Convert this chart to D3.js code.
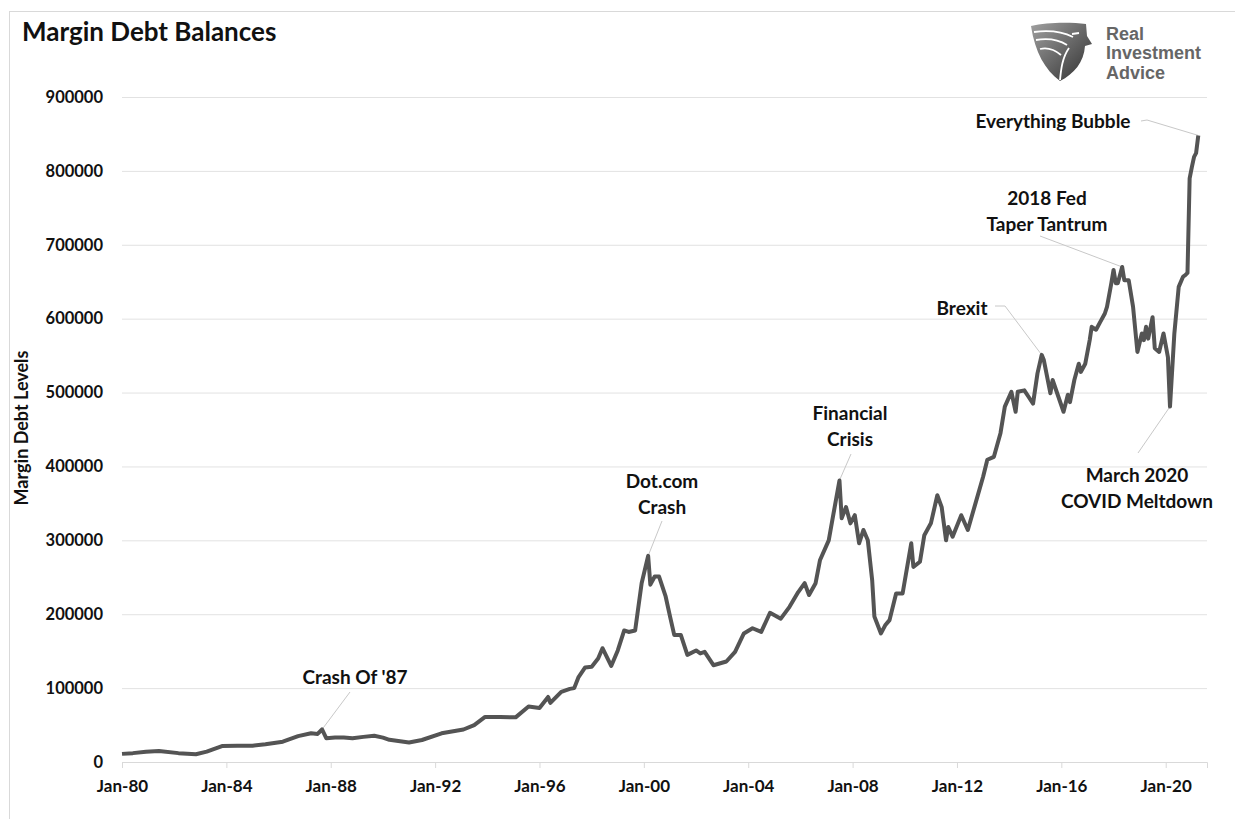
<!DOCTYPE html>
<html>
<head>
<meta charset="utf-8">
<script src="https://cdn.jsdelivr.net/npm/d3@7"></script>
<style>
  body { margin: 0; background: #fff; }
  svg { display: block; font-family: Lato, "Open Sans", sans-serif; }
</style>
</head>
<body>
<svg width="1235" height="819"></svg>
<script>
// monthly readings (millions $)
const months = [
  "1980-01","1980-06","1980-12","1981-06","1982-03","1982-11","1983-04","1983-11",
  "1984-06","1985-01","1985-07","1986-03","1986-10","1987-04","1987-07","1987-09",
  "1987-11","1988-03","1988-07","1988-11","1989-04","1989-09","1990-01","1990-04",
  "1991-01","1991-07","1992-04","1993-02","1993-07","1993-12","1994-07","1995-02",
  "1995-08","1996-01","1996-05","1996-06","1996-11","1997-03","1997-05","1997-07",
  "1997-10","1998-01","1998-04","1998-06","1998-10","1999-01","1999-04","1999-06",
  "1999-09","1999-12","2000-03","2000-04","2000-06","2000-08","2000-11","2001-01",
  "2001-03","2001-06","2001-09","2002-01","2002-03","2002-05","2002-09","2003-03",
  "2003-07","2003-11","2004-03","2004-07","2004-11","2005-04","2005-08","2005-12",
  "2006-03","2006-05","2006-08","2006-10","2007-02","2007-04","2007-07","2007-08",
  "2007-10","2007-12","2008-02","2008-04","2008-06","2008-08","2008-10","2008-11",
  "2009-02","2009-04","2009-06","2009-09","2009-12","2010-04","2010-05","2010-08",
  "2010-10","2011-01","2011-04","2011-06","2011-08","2011-09","2011-11","2012-03",
  "2012-06","2012-09","2013-01","2013-03","2013-06","2013-09","2013-11","2014-02",
  "2014-04","2014-05","2014-08","2014-10","2014-12","2015-02","2015-04","2015-05",
  "2015-08","2015-09","2016-02","2016-04","2016-05","2016-07","2016-09","2016-10",
  "2016-12","2017-02","2017-03","2017-05","2017-07","2017-09","2017-10","2017-12",
  "2018-01","2018-02","2018-03","2018-05","2018-06","2018-08","2018-10","2018-12",
  "2019-02","2019-03","2019-04","2019-05","2019-07","2019-08","2019-10","2019-12",
  "2020-02","2020-03","2020-05","2020-07","2020-09","2020-10","2020-11","2020-12",
  "2021-01","2021-02","2021-03","2021-04"
];
const debt = [
  11000,12000,14000,15000,12000,10500,14000,21500,
  22000,22000,24000,27500,35000,39000,38000,44000,
  32000,33000,33000,32000,34000,35500,33000,30000,
  26500,29800,38800,44000,50000,61000,61000,60400,
  75000,73000,88000,80000,95000,99000,100000,115000,
  128000,129000,140000,154000,130000,151000,178000,176000,
  178000,242000,279000,240000,251000,251000,224000,197000,
  172000,172000,145000,151000,147000,149000,131000,136000,
  149000,174000,181000,176000,202000,194000,210000,230000,
  242000,226000,242000,273000,300000,332000,381000,330000,
  345000,323000,334000,296000,314000,300000,246000,197000,
  174000,185000,192000,228000,228000,296000,264000,271000,
  307000,323000,361000,345000,300000,318000,305000,334000,
  314000,345000,386000,409000,413000,445000,481000,501000,
  474000,501000,503000,494000,485000,526000,551000,544000,
  499000,517000,474000,497000,487000,517000,539000,528000,
  539000,571000,589000,585000,596000,607000,616000,648000,
  666000,648000,648000,670000,652000,652000,616000,555000,
  580000,571000,589000,573000,602000,560000,555000,580000,
  548000,481000,580000,643000,657000,659000,662000,790000,
  805000,819000,824000,848000
];
const yTicks = [0,100000,200000,300000,400000,500000,600000,700000,800000,900000];

// annotations: label lines, the data month they point to
const notes = [
  { lines: ["Crash Of '87"], month: "1987-09", lx: 355, ly: 677, from: [350, 692] },
  { lines: ["Dot.com", "Crash"], month: "2000-03", lx: 662, ly: 481, from: [662, 521] },
  { lines: ["Financial", "Crisis"], month: "2007-07", lx: 850, ly: 413, from: [851, 454] },
  { lines: ["Brexit"], month: "2015-04", lx: 962, ly: 308, from: [995, 306], elbow: [1005, 306] },
  { lines: ["2018 Fed", "Taper Tantrum"], month: "2018-05", lx: 1047, ly: 198, from: [1040, 236] },
  { lines: ["Everything Bubble"], month: "2021-04", lx: 1053, ly: 121, from: [1141, 121], elbow: [1147, 120] },
  { lines: ["March 2020", "COVID Meltdown"], month: "2020-03", lx: 1137, ly: 475, from: [1138, 453] }
];

const parse = d3.timeParse("%Y-%m");
const data = months.map((m, i) => ({ date: parse(m), value: debt[i] }));

const svg = d3.select("svg");
const plotLeft = 122, plotRight = 1207, plotTop = 97, plotBottom = 762;

const x = d3.scaleTime()
  .domain([new Date(1980, 0, 1), new Date(2021, 7, 1)])
  .range([plotLeft, plotRight]);
const y = d3.scaleLinear().domain([0, 900000]).range([plotBottom, plotTop]);

// outer frame
svg.append("rect")
  .attr("x", 9.5).attr("y", 11.5)
  .attr("width", 1240).attr("height", 820)
  .attr("fill", "none").attr("stroke", "#d9d9d9");

svg.append("text")
  .attr("x", 22).attr("y", 41)
  .attr("font-size", 26).attr("font-weight", 700)
  .attr("fill", "#111")
  .text("Margin Debt Balances");

// y axis + gridlines
const yAxis = d3.axisLeft(y)
  .tickValues(yTicks)
  .tickSize(-(plotRight - plotLeft))
  .tickPadding(19)
  .tickFormat(d3.format("d"));

const yg = svg.append("g")
  .attr("transform", `translate(${plotLeft},0)`)
  .call(yAxis);
yg.select(".domain").remove();
yg.selectAll("line").attr("stroke", "#e2e2e2");
yg.selectAll("text")
  .attr("font-size", 16.5).attr("font-weight", 700)
  .attr("fill", "#111").attr("font-family", "Lato, sans-serif");

// x axis
const xAxis = d3.axisBottom(x)
  .ticks(d3.timeYear.every(4))
  .tickSize(6)
  .tickPadding(12)
  .tickFormat(d3.timeFormat("Jan-%y"));

const xg = svg.append("g")
  .attr("transform", `translate(0,${plotBottom})`)
  .call(xAxis);
xg.select(".domain").attr("stroke", "#d9d9d9");
xg.selectAll("line").attr("stroke", "#d9d9d9");
xg.selectAll("text")
  .attr("font-size", 17).attr("font-weight", 700)
  .attr("fill", "#111").attr("font-family", "Lato, sans-serif");

svg.append("text")
  .attr("transform", "translate(28,428) rotate(-90)")
  .attr("text-anchor", "middle")
  .attr("font-size", 18).attr("font-weight", 700)
  .attr("fill", "#111")
  .text("Margin Debt Levels");

// leader lines
const byMonth = new Map(data.map(d => [d3.timeFormat("%Y-%m")(d.date), d]));
notes.forEach(n => {
  const d = byMonth.get(n.month);
  const pts = [n.from];
  if (n.elbow) pts.push(n.elbow);
  pts.push([x(d.date), y(d.value)]);
  svg.append("path")
    .attr("d", d3.line()(pts))
    .attr("fill", "none")
    .attr("stroke", "#c8c8c8")
    .attr("stroke-width", 1);
});

// the series
svg.append("path")
  .datum(data)
  .attr("fill", "none")
  .attr("stroke", "#545454")
  .attr("stroke-width", 4)
  .attr("stroke-linejoin", "round")
  .attr("d", d3.line().x(d => x(d.date)).y(d => y(d.value)));

// labels
notes.forEach(n => {
  const t = svg.append("text")
    .attr("text-anchor", "middle")
    .attr("font-size", 19).attr("font-weight", 700)
    .attr("fill", "#111");
  n.lines.forEach((l, i) => {
    t.append("tspan")
      .attr("x", n.lx)
      .attr("y", n.ly + i * 26)
      .attr("dy", "0.35em")
      .text(l);
  });
});

// logo
const logo = svg.append("g").attr("transform", "translate(1031,22)");
const grad = svg.append("defs").append("linearGradient")
  .attr("id", "eg").attr("x1", "0").attr("y1", "0").attr("x2", "1").attr("y2", "1");
grad.append("stop").attr("offset", "0").attr("stop-color", "#a0a0a0");
grad.append("stop").attr("offset", "1").attr("stop-color", "#2f2f2f");
logo.append("path")
  .attr("d", "M0,4 C16,0 40,0 55,2 L56,14 L61,22 L54,24 C53,40 43,52 29,59 C14,48 4,30 0,4 Z")
  .attr("fill", "url(#eg)");
logo.append("path")
  .attr("d", "M3,10 C18,8 32,10 42,15 M5,18 C17,16 28,18 36,23 M9,27 C17,25 24,28 30,33 M41,12 L48,11 M38,26 C31,36 30,48 29,58")
  .attr("fill", "none").attr("stroke", "#fff").attr("stroke-width", 1.8);
["Real", "Investment", "Advice"].forEach((w, i) => {
  svg.append("text")
    .attr("font-family", "'Liberation Sans', Arial, sans-serif")
    .attr("font-weight", 700).attr("font-size", 18)
    .attr("fill", "#666")
    .attr("x", 1106).attr("y", 39.5 + i * 19.5)
    .text(w);
});
</script>
</body>
</html>
